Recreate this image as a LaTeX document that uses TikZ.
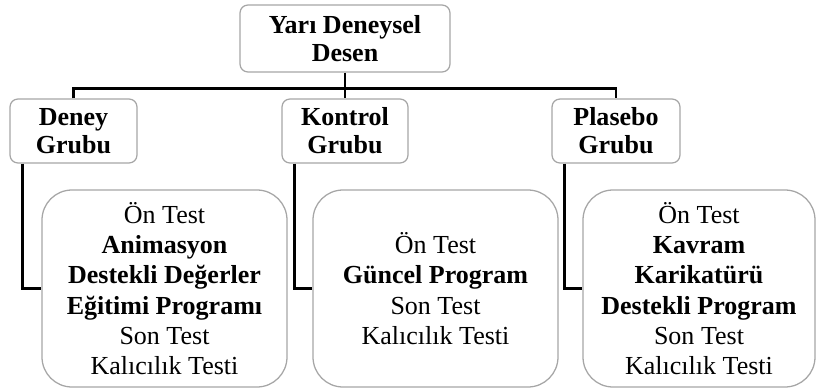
\documentclass[tikz,border=0pt]{standalone}
\usepackage{fontspec}
\setmainfont{Liberation Serif}

\tikzset{
  kutu/.style = {draw = gray!70, line width = 0.9pt, rounded corners = 0.2cm, align = center,
                 font = \fontsize{18.5}{20}\selectfont\bfseries, inner sep = 2pt},
  detay/.style = {draw = gray!70, line width = 0.9pt, rounded corners = 0.75cm, align = center,
                  font = \fontsize{18.5}{21.5}\selectfont, minimum height = 4.925cm},
  hat/.style = {line width = 1.9pt}
}

\begin{document}
\begin{tikzpicture}
\useasboundingbox (0,0) rectangle (20.425,-9.75);

\node[kutu, minimum width = 5.25cm, minimum height = 1.675cm] (yari) at (8.625,-0.9625) {Yarı Deneysel\\Desen};

\node[kutu, minimum width = 3.175cm, minimum height = 1.6cm] (deney) at (1.8375,-3.275) {Deney\\Grubu};
\node[kutu, minimum width = 3.15cm, minimum height = 1.6cm] (kontrol) at (8.625,-3.275) {Kontrol\\Grubu};
\node[kutu, minimum width = 3.2cm, minimum height = 1.6cm] (plasebo) at (15.4,-3.275) {Plasebo\\Grubu};

\node[detay, minimum width = 6.125cm] (d1) at (4.1125,-7.2125)
   {Ön Test\\\textbf{Animasyon}\\\textbf{Destekli Değerler}\\\textbf{Eğitimi Programı}\\Son Test\\Kalıcılık Testi};
\node[detay, minimum width = 6.125cm] (d2) at (10.8875,-7.2125)
   {Ön Test\\\textbf{Güncel Program}\\Son Test\\Kalıcılık Testi};
\node[detay, minimum width = 5.8cm] (d3) at (17.475,-7.2125)
   {Ön Test\\\textbf{Kavram}\\\textbf{Karikatürü}\\\textbf{Destekli Program}\\Son Test\\Kalıcılık Testi};

\draw[hat] (yari.south) -- ++(0,-0.4) coordinate (bus);
\draw[hat] (deney.north) |- (bus) -| (plasebo.north);
\draw[hat] (bus) -- (kontrol.north);

\foreach \g/\d in {deney/d1, kontrol/d2, plasebo/d3}
   \draw[hat] ([xshift = 0.325cm]\g.south west) |- (\d.west);
\end{tikzpicture}
\end{document}
